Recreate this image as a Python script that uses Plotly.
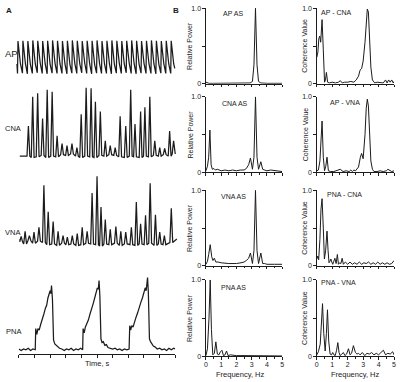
import plotly.graph_objects as go

# ---------------- data: left panel (A) recordings ----------------
AP_BEATS = [-0.085, 0.231, 0.547, 0.863, 1.179, 1.495, 1.811, 2.127, 2.443, 2.759, 3.075,
            3.391, 3.707, 4.023, 4.339, 4.655, 4.971, 5.287, 5.603, 5.919, 6.235, 6.551,
            6.867, 7.183, 7.499, 7.815, 8.131, 8.447, 8.763, 9.079, 9.395, 9.711]
AP_SYS = [0.97, 0.98, 0.97, 0.99, 0.98, 0.97, 0.98, 0.99, 0.98, 0.97, 0.98, 0.99, 0.98, 0.97,
          0.98, 0.98, 0.99, 0.97, 0.98, 0.99, 0.98, 0.97, 0.98, 0.99, 0.98, 0.97, 0.98, 0.99,
          0.98, 0.97, 0.98, 0.98]
AP_NOTCH = [0.30, 0.31, 0.29, 0.30, 0.32, 0.30, 0.29, 0.31, 0.30, 0.30, 0.29, 0.31, 0.30, 0.32,
            0.30, 0.29, 0.31, 0.30, 0.30, 0.29, 0.31, 0.30, 0.32, 0.30, 0.29, 0.31, 0.30, 0.30,
            0.29, 0.31, 0.30, 0.30]
AP_DIA = [0.02, 0.03, 0.01, 0.02, 0.04, 0.02, 0.01, 0.03, 0.02, 0.02, 0.01, 0.03, 0.02, 0.04,
          0.02, 0.01, 0.03, 0.02, 0.02, 0.01, 0.03, 0.02, 0.04, 0.02, 0.01, 0.03, 0.02, 0.02,
          0.01, 0.03, 0.02, 0.02]

CNA_BEATS = [0.612, 0.886, 1.203, 1.519, 1.814, 2.131, 2.447, 2.764, 3.080, 3.397, 3.713,
             3.987, 4.304, 4.620, 4.895, 5.211, 5.527, 5.844, 6.160, 6.477, 6.835, 7.152,
             7.426, 7.785, 8.059, 8.375, 8.692, 9.008, 9.325, 9.641, 9.894]
CNA_PEAKS = [0.45, 0.87, 0.92, 0.56, 0.97, 0.94, 0.31, 0.20, 0.17, 0.20, 0.14, 0.62, 1.00,
             0.99, 0.80, 0.66, 0.24, 0.17, 0.14, 0.59, 0.45, 0.97, 0.48, 0.66, 0.72, 0.87,
             0.24, 0.14, 0.13, 0.38, 0.24]
CNA_TROUGHS = [0.02, 0.00, 0.01, 0.03, 0.00, 0.02, 0.01, 0.04, 0.03, 0.05, 0.02, 0.00, 0.02,
               0.01, 0.00, 0.03, 0.02, 0.04, 0.03, 0.01, 0.00, 0.02, 0.01, 0.00, 0.02, 0.01,
               0.03, 0.02, 0.04, 0.02, 0.05]

VNA_BEATS = [0.148, 0.401, 0.675, 0.970, 1.287, 1.603, 1.878, 2.194, 2.510, 2.827, 3.101,
             3.418, 3.734, 4.051, 4.367, 4.684, 5.000, 5.253, 5.527, 5.844, 6.203, 6.519,
             6.835, 7.194, 7.511, 7.785, 8.101, 8.396, 8.734, 9.008, 9.304, 9.747]
VNA_PEAKS = [0.14, 0.21, 0.15, 0.20, 0.27, 0.87, 0.49, 0.35, 0.21, 0.15, 0.13, 0.15, 0.18,
             0.27, 0.21, 0.76, 1.00, 0.56, 0.38, 0.24, 0.28, 0.21, 0.20, 0.27, 0.63, 0.32,
             0.44, 0.90, 0.45, 0.20, 0.15, 0.54]
VNA_TROUGHS = [0.06, 0.03, 0.08, 0.04, 0.07, 0.05, 0.02, 0.03, 0.01, 0.04, 0.02, 0.03, 0.01,
               0.02, 0.04, 0.03, 0.02, 0.00, 0.03, 0.02, 0.04, 0.01, 0.03, 0.02, 0.01, 0.03,
               0.02, 0.04, 0.01, 0.03, 0.02, 0.05]

PNA_T = [0.0, 0.15, 0.3, 0.45, 0.6, 0.75, 0.9, 1.05,
         1.08, 1.15, 1.22, 1.3, 1.4, 1.5, 1.6, 1.7, 1.78, 1.86, 1.94, 2.0, 2.05, 2.09, 2.15,
         2.22, 2.3, 2.4, 2.5, 2.6, 2.75, 2.9, 3.05, 3.2, 3.35, 3.5, 3.65, 3.8, 3.95, 4.08,
         4.11, 4.18, 4.25, 4.35, 4.45, 4.55, 4.65, 4.75, 4.85, 4.95, 5.02, 5.08, 5.13, 5.18,
         5.25, 5.32, 5.4, 5.5, 5.6, 5.7, 5.85, 6.0, 6.15, 6.3, 6.45, 6.6, 6.75, 6.9, 7.05,
         7.09, 7.15, 7.22, 7.3, 7.4, 7.5, 7.6, 7.7, 7.8, 7.9, 8.0, 8.08, 8.14, 8.23, 8.28,
         8.35, 8.42, 8.5, 8.6, 8.7, 8.85, 9.0, 9.15, 9.3, 9.45, 9.6, 9.75, 9.9, 10.0]
PNA_V = [0.02, 0.0, 0.02, 0.01, 0.03, 0.0, 0.02, 0.01,
         0.30, 0.22, 0.30, 0.28, 0.36, 0.42, 0.50, 0.58, 0.62, 0.72, 0.78, 0.82, 0.78, 0.89, 0.70,
         0.14, 0.09, 0.07, 0.04, 0.03, 0.02, 0.0, 0.02, 0.01, 0.03, 0.0, 0.02, 0.01, 0.03, 0.01,
         0.30, 0.24, 0.32, 0.36, 0.42, 0.50, 0.56, 0.64, 0.72, 0.80, 0.86, 0.84, 0.96, 0.75,
         0.16, 0.11, 0.12, 0.07, 0.08, 0.04, 0.03, 0.02, 0.03, 0.01, 0.02, 0.0, 0.02, 0.01, 0.02,
         0.34, 0.28, 0.34, 0.32, 0.40, 0.46, 0.52, 0.60, 0.66, 0.72, 0.80, 0.86, 0.82, 1.00, 0.80,
         0.16, 0.12, 0.09, 0.06, 0.05, 0.02, 0.03, 0.01, 0.02, 0.0, 0.03, 0.01, 0.03, 0.02]

TIME_TICKS = [0, 1, 2, 3, 4, 5, 6, 7, 8, 9, 10]

# ---------------- data: right panel (B) spectra ----------------
FREQ_TICKS = [0, 1, 2, 3, 4, 5]

AP_AS_F = [0, 0.1, 0.2, 0.5, 1.0, 1.5, 2.0, 2.5, 2.9, 3.05, 3.15, 3.25, 3.35, 3.45, 3.6, 4.0, 4.5, 5.0]
AP_AS_V = [0.02, 0.01, 0.005, 0.005, 0.005, 0.005, 0.005, 0.005, 0.01, 0.03, 0.25, 1.0, 0.25,
           0.03, 0.01, 0.005, 0.005, 0.005]

CNA_AS_F = [0, 0.1, 0.18, 0.26, 0.34, 0.42, 0.52, 0.62, 0.75, 1.0, 1.25, 1.5, 1.75, 2.0, 2.25,
            2.5, 2.65, 2.8, 2.92, 3.05, 3.15, 3.25, 3.35, 3.45, 3.6, 3.72, 3.85, 4.0, 4.25,
            4.5, 4.75, 5.0]
CNA_AS_V = [0.02, 0.08, 0.2, 0.56, 0.1, 0.04, 0.05, 0.03, 0.04, 0.02, 0.03, 0.02, 0.03, 0.02,
            0.03, 0.03, 0.05, 0.1, 0.19, 0.04, 0.2, 1.0, 0.2, 0.04, 0.14, 0.04, 0.03, 0.02,
            0.03, 0.02, 0.02, 0.01]

VNA_AS_F = [0, 0.1, 0.18, 0.28, 0.38, 0.46, 0.55, 0.65, 0.8, 1.0, 1.5, 2.0, 2.3, 2.5, 2.65,
            2.8, 2.92, 3.05, 3.15, 3.25, 3.35, 3.45, 3.6, 3.72, 3.85, 4.0, 4.5, 5.0]
VNA_AS_V = [0.02, 0.06, 0.15, 0.28, 0.12, 0.07, 0.1, 0.05, 0.05, 0.04, 0.03, 0.03, 0.04, 0.05,
            0.07, 0.1, 0.17, 0.03, 0.2, 1.0, 0.2, 0.03, 0.17, 0.03, 0.03, 0.02, 0.02, 0.02]

PNA_AS_F = [0, 0.1, 0.2, 0.28, 0.36, 0.45, 0.55, 0.65, 0.75, 0.85, 0.95, 1.05, 1.15, 1.25,
            1.35, 1.45, 1.6, 2.0, 2.5, 3.0, 3.5, 4.0, 4.5, 5.0]
PNA_AS_V = [0.01, 0.1, 0.5, 1.0, 0.35, 0.02, 0.04, 0.19, 0.03, 0.02, 0.06, 0.08, 0.01, 0.02,
            0.07, 0.01, 0.02, 0.01, 0.01, 0.01, 0.005, 0.005, 0.005, 0.005]

AP_CNA_F = [0, 0.07, 0.13, 0.19, 0.25, 0.34, 0.42, 0.5, 0.56, 0.62, 0.7, 0.8, 1.0, 1.2, 1.4,
            1.52, 1.65, 1.8, 2.0, 2.2, 2.4, 2.55, 2.7, 2.8, 2.9, 3.0, 3.12, 3.2, 3.27, 3.34,
            3.42, 3.5, 3.6, 3.75, 3.9, 4.1, 4.3, 4.45, 4.55, 4.65, 4.75, 4.85, 4.95, 5.0]
AP_CNA_V = [0.35, 0.42, 0.6, 0.63, 0.55, 0.85, 0.45, 0.02, 0.05, 0.15, 0.02, 0.01, 0.02, 0.01,
            0.02, 0.04, 0.01, 0.02, 0.02, 0.03, 0.02, 0.05, 0.1, 0.18, 0.2, 0.3, 0.55, 0.85,
            0.99, 0.95, 0.6, 0.22, 0.05, 0.01, 0.02, 0.01, 0.01, 0.05, 0.01, 0.05, 0.02, 0.05,
            0.01, 0.03]

AP_VNA_F = [0, 0.1, 0.2, 0.27, 0.34, 0.42, 0.5, 0.58, 0.66, 0.75, 0.9, 1.1, 1.3, 1.52, 1.7,
            1.9, 2.1, 2.2, 2.3, 2.4, 2.5, 2.6, 2.7, 2.82, 2.9, 3.0, 3.12, 3.2, 3.27, 3.34,
            3.42, 3.5, 3.6, 3.7, 3.9, 4.1, 4.3, 4.5, 4.6, 4.7, 4.85, 5.0]
AP_VNA_V = [0.02, 0.03, 0.15, 0.45, 0.68, 0.2, 0.02, 0.08, 0.2, 0.02, 0.01, 0.01, 0.02, 0.04,
            0.01, 0.02, 0.01, 0.03, 0.01, 0.03, 0.02, 0.04, 0.07, 0.2, 0.25, 0.18, 0.5, 0.85,
            0.97, 0.88, 0.5, 0.15, 0.04, 0.01, 0.01, 0.02, 0.01, 0.02, 0.04, 0.03, 0.01, 0.02]

PNA_CNA_F = [0, 0.06, 0.12, 0.2, 0.27, 0.34, 0.42, 0.49, 0.57, 0.66, 0.73, 0.79, 0.85, 0.91,
             0.97, 1.03, 1.1, 1.17, 1.25, 1.33, 1.4, 1.48, 1.56, 1.64, 1.72, 1.85, 2.0, 2.15,
             2.3, 2.45, 2.6, 2.75, 2.9, 3.05, 3.2, 3.35, 3.5, 3.65, 3.8, 3.95, 4.1, 4.25, 4.4,
             4.55, 4.7, 4.85, 5.0]
PNA_CNA_V = [0.09, 0.13, 0.08, 0.35, 0.75, 0.89, 0.5, 0.09, 0.2, 0.46, 0.2, 0.04, 0.06, 0.09,
             0.05, 0.02, 0.06, 0.1, 0.03, 0.15, 0.02, 0.04, 0.03, 0.1, 0.02, 0.05, 0.02, 0.05,
             0.02, 0.04, 0.02, 0.05, 0.02, 0.04, 0.03, 0.05, 0.02, 0.04, 0.02, 0.05, 0.02,
             0.04, 0.02, 0.04, 0.02, 0.03, 0.07]

PNA_VNA_F = [0, 0.1, 0.22, 0.3, 0.37, 0.45, 0.54, 0.62, 0.69, 0.77, 0.86, 0.95, 1.03, 1.11,
             1.19, 1.28, 1.36, 1.44, 1.51, 1.62, 1.72, 1.82, 1.93, 2.05, 2.15, 2.25, 2.37, 2.5,
             2.6, 2.7, 2.8, 2.95, 3.1, 3.25, 3.4, 3.55, 3.7, 3.85, 4.0, 4.15, 4.31, 4.45, 4.6,
             4.75, 4.91, 5.0]
PNA_VNA_V = [0.02, 0.06, 0.16, 0.45, 0.69, 0.3, 0.07, 0.3, 0.61, 0.2, 0.03, 0.02, 0.05, 0.02,
             0.01, 0.08, 0.18, 0.05, 0.01, 0.03, 0.05, 0.01, 0.03, 0.1, 0.02, 0.04, 0.14, 0.05,
             0.03, 0.04, 0.02, 0.05, 0.01, 0.04, 0.03, 0.05, 0.02, 0.04, 0.02, 0.05, 0.08,
             0.02, 0.04, 0.03, 0.06, 0.02]

LEFT_TITLES = ["AP AS", "CNA AS", "VNA AS", "PNA AS"]
RIGHT_TITLES = ["AP - CNA", "AP - VNA", "PNA - CNA", "PNA - VNA"]
TRACE_LABELS = ["AP", "CNA", "VNA", "PNA"]

# ---------------- styling / layout ----------------
W, H = 400, 382
FONT = "Liberation Sans, Arial, sans-serif"
INK = "#1c1c1c"


def fx(p):
    return p / W


def fy(p):
    return 1 - p / H


def build_ap():
    t, v = [-0.12], [AP_NOTCH[0]]
    for b, s, n, d in zip(AP_BEATS, AP_SYS, AP_NOTCH, AP_DIA):
        t += [b, b + 0.03, b + 0.19]
        v += [d, s, n]
    t.append(AP_BEATS[-1] + 0.26)
    v.append(AP_DIA[-1] + 0.15)
    return t, v


def build_spikes(beats, peaks, troughs, start, end):
    t, v = [start[0]], [start[1]]
    for b, p, q in zip(beats, peaks, troughs):
        t += [b - 0.09, b, b + 0.09]
        v += [q, p, q]
    t.append(end[0])
    v.append(end[1])
    return t, v


fig = go.Figure()
layout = {}

# recordings (axes 1..4)
rec = [
    (build_ap(), (13.84, 178.16), (-0.2, 10.2), (37, 73), (-0.02, 1.02)),
    (build_spikes(CNA_BEATS, CNA_PEAKS, CNA_TROUGHS, (0.06, 0.02), (10.0, 0.05)),
     (13.84, 178.16), (-0.2, 10.2), (83.9, 159.8), (-0.04, 1.03)),
    (build_spikes(VNA_BEATS, VNA_PEAKS, VNA_TROUGHS, (0.08, 0.1), (10.1, 0.1)),
     (13.84, 178.16), (-0.2, 10.2), (173.9, 250.5), (-0.05, 1.03)),
    ((PNA_T, PNA_V), (17, 175), (0, 10), (277.5, 357), (-0.054, 1.02)),
]
for i, ((t, v), xd, xr, yd, yr) in enumerate(rec, start=1):
    xn = "x" if i == 1 else f"x{i}"
    yn = "y" if i == 1 else f"y{i}"
    fig.add_trace(go.Scatter(x=t, y=v, mode="lines", xaxis=xn, yaxis=yn,
                             line=dict(color=INK, width=1.25), hoverinfo="skip",
                             showlegend=False))
    xk = "xaxis" if i == 1 else f"xaxis{i}"
    yk = "yaxis" if i == 1 else f"yaxis{i}"
    xa = dict(domain=[fx(xd[0]), fx(xd[1])], range=list(xr), anchor=yn,
              showgrid=False, zeroline=False, fixedrange=True)
    if i == 4:
        xa.update(showline=True, linecolor=INK, linewidth=1, ticks="outside",
                  ticklen=3, tickwidth=1, tickcolor=INK, tickvals=TIME_TICKS,
                  showticklabels=False)
    else:
        xa.update(visible=False)
    layout[xk] = xa
    layout[yk] = dict(domain=[fy(yd[1]), fy(yd[0])], range=list(yr), anchor=xn,
                      visible=False, fixedrange=True)

# spectra (axes 5..12)
ROWS = [(5, 82), (95, 172), (190, 267), (281, 359)]
COLS = [(206, 283), (318, 396)]
spectra = [
    [(AP_AS_F, AP_AS_V), (CNA_AS_F, CNA_AS_V), (VNA_AS_F, VNA_AS_V), (PNA_AS_F, PNA_AS_V)],
    [(AP_CNA_F, AP_CNA_V), (AP_VNA_F, AP_VNA_V), (PNA_CNA_F, PNA_CNA_V), (PNA_VNA_F, PNA_VNA_V)],
]
tickfont = dict(family=FONT, size=7, color=INK)
idx = 5
for c, col in enumerate(COLS):
    for r, row in enumerate(ROWS):
        f, v = spectra[c][r]
        xn, yn = f"x{idx}", f"y{idx}"
        fig.add_trace(go.Scatter(x=f, y=v, mode="lines", xaxis=xn, yaxis=yn,
                                 line=dict(color=INK, width=1.0), hoverinfo="skip",
                                 showlegend=False))
        layout[f"xaxis{idx}"] = dict(
            domain=[fx(col[0]), fx(col[1])], range=[0, 5], anchor=yn,
            showline=True, linecolor=INK, linewidth=1, ticks="outside", ticklen=2.5,
            tickwidth=1, tickcolor=INK, tickvals=FREQ_TICKS,
            showticklabels=(r == 3), tickfont=tickfont, ticklabelstandoff=-1,
            minor=dict(tickvals=[0.5, 1.5, 2.5, 3.5, 4.5], ticks="outside", ticklen=1.5,
                       tickcolor=INK, tickwidth=1),
            showgrid=False, zeroline=False, fixedrange=True)
        layout[f"yaxis{idx}"] = dict(
            domain=[fy(row[1]), fy(row[0])], range=[0, 1.005], anchor=xn,
            showline=True, linecolor=INK, linewidth=1, ticks="outside", ticklen=2.5,
            tickwidth=1, tickcolor=INK, tickvals=[0, 0.5, 1], ticktext=["0", "", "1.0"],
            tickfont=tickfont, showgrid=False, zeroline=False, fixedrange=True)
        idx += 1

ann = []


def text(x, y, s, size=7, angle=0, bold=False, xanchor="center"):
    ann.append(dict(x=fx(x), y=fy(y), xref="paper", yref="paper", text=(f"<b>{s}</b>" if bold else s),
                    showarrow=False, textangle=angle, xanchor=xanchor, yanchor="middle",
                    borderpad=0, font=dict(family=FONT, size=size, color=INK)))


text(3, 8, "A", 8, bold=True, xanchor="left")
text(172, 8, "B", 8, bold=True, xanchor="left")
label_pos = [(2, 51, 9.5), (2, 127, 7.5), (2, 233, 7.5), (3, 334, 7.5)]
for lab, (x, y, s) in zip(TRACE_LABELS, label_pos):
    text(x, y, lab, s, xanchor="left")
text(96, 366, "Time, s", 7.5)

left_title_pos = [(233, 11), (235, 102), (234, 197), (234, 289)]
right_title_pos = [(338, 10), (346, 101), (346, 195), (340, 284)]
for lab, (x, y) in zip(LEFT_TITLES, left_title_pos):
    text(x, y, lab, 7)
for lab, (x, y) in zip(RIGHT_TITLES, right_title_pos):
    text(x, y, lab, 7)
for row in ROWS:
    yc = (row[0] + row[1]) / 2
    text(190, yc, "Relative Power", 7, angle=-90)
    text(306, yc, "Coherence Value", 7, angle=-90)
text(240, 377, "Frequency, Hz", 7.5)
text(357, 377, "Frequency, Hz", 7.5)

fig.update_layout(width=W, height=H, autosize=False,
                  margin=dict(l=0, r=0, t=0, b=0),
                  paper_bgcolor="white", plot_bgcolor="rgba(0,0,0,0)",
                  annotations=ann, showlegend=False, **layout)

fig.write_html("out.html", config={"displayModeBar": False},
               post_script="document.body.style.margin='0';document.body.style.overflow='hidden';")
